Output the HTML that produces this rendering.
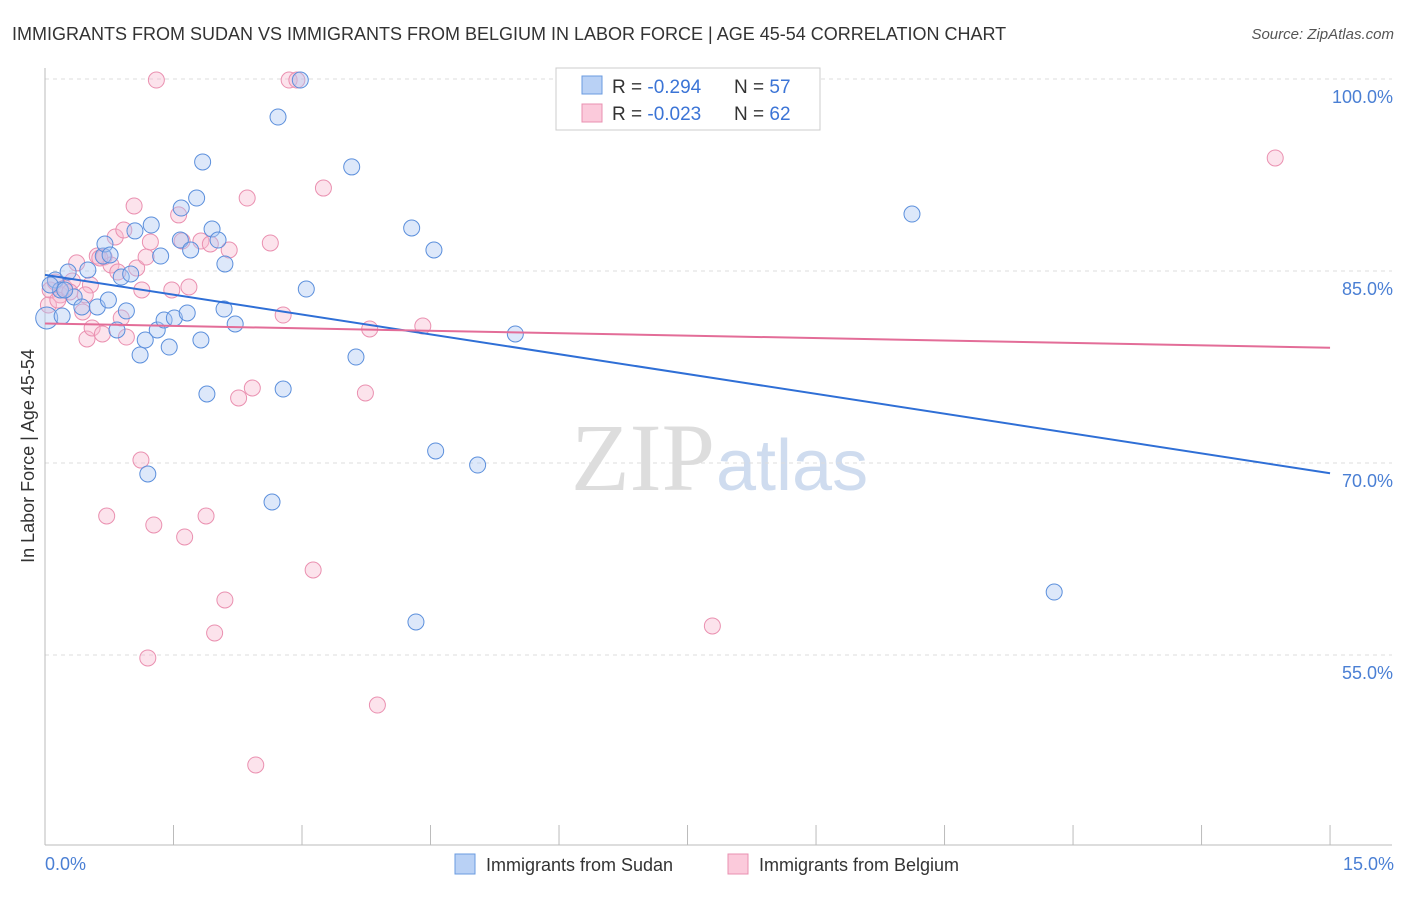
<!DOCTYPE html>
<html><head><meta charset="utf-8"><style>
body{margin:0;background:#fff;font-family:"Liberation Sans",sans-serif}
</style></head><body>
<svg width="1406" height="892" viewBox="0 0 1406 892" xmlns="http://www.w3.org/2000/svg">
<text x="12" y="40" font-size="18" fill="#333">IMMIGRANTS FROM SUDAN VS IMMIGRANTS FROM BELGIUM IN LABOR FORCE | AGE 45-54 CORRELATION CHART</text>
<text x="1394" y="39" font-size="15" fill="#555" text-anchor="end" font-style="italic">Source: ZipAtlas.com</text>
<text x="715" y="490" font-size="96" fill="#ddd" text-anchor="end" font-family="Liberation Serif">ZIP</text>
<text x="716" y="490" font-size="72" fill="#cfdcef">atlas</text>
<g id="grid"></g>
<g id="axes"></g>
<g id="pts"></g>
<g id="trends"></g>
<text x="34" y="456" font-size="18" fill="#333" text-anchor="middle" transform="rotate(-90 34 456)">In Labor Force | Age 45-54</text>
<text x="45" y="870" font-size="18" fill="#4a7fd4">0.0%</text>
<text x="1394" y="870" font-size="18" fill="#4a7fd4" text-anchor="end">15.0%</text>
<g>
<rect x="556" y="68" width="264" height="62" fill="#fff" stroke="#ccc"/>
<rect x="582" y="76" width="20" height="18" fill="#b9d1f5" stroke="#6a9be0"/>
<rect x="582" y="104" width="20" height="18" fill="#fbcadb" stroke="#ea90b0"/>
<text x="612" y="93" font-size="19" fill="#333">R = <tspan fill="#3b74d6">-0.294</tspan></text>
<text x="734" y="93" font-size="19" fill="#333">N = <tspan fill="#3b74d6">57</tspan></text>
<text x="612" y="120" font-size="19" fill="#333">R = <tspan fill="#3b74d6">-0.023</tspan></text>
<text x="734" y="120" font-size="19" fill="#333">N = <tspan fill="#3b74d6">62</tspan></text>
</g>
<g>
<rect x="455" y="854" width="20" height="20" fill="#b9d1f5" stroke="#6a9be0"/>
<text x="486" y="871" font-size="18" fill="#333">Immigrants from Sudan</text>
<rect x="728" y="854" width="20" height="20" fill="#fbcadb" stroke="#ea90b0"/>
<text x="759" y="871" font-size="18" fill="#333">Immigrants from Belgium</text>
</g>
</svg>
<script>
const yTicks=[100,85,70,55];
const xTickVals=[0,1.5,3,4.5,6,7.5,9,10.5,12,13.5,15];
const bluePx=[[47,318],[55,280],[62,316],[68,272],[74,297],[82,307],[88,270],[97,307],[103,256],[105,244],[108,300],[117,330],[121,277],[126,311],[131,274],[135,231],[140,355],[145,340],[148,474],[151,225],[157,330],[161,256],[164,320],[169,347],[174,318],[180,240],[181,208],[187,313],[191,250],[197,198],[201,340],[203,162],[207,394],[212,229],[218,240],[224,309],[225,264],[235,324],[272,502],[278,117],[283,389],[300,80],[306,289],[352,167],[356,357],[412,228],[416,622],[434,250],[436,451],[478,465],[515,334],[912,214],[1054,592],[60,290],[50,285],[65,290],[110,255]];
const pinkPx=[[50,290],[55,282],[60,295],[65,288],[72,281],[77,263],[83,312],[87,339],[90,285],[92,328],[97,256],[102,334],[104,257],[107,516],[111,265],[115,237],[118,272],[121,318],[124,230],[126,337],[134,206],[137,268],[141,460],[146,257],[148,658],[150,242],[154,525],[156,80],[172,290],[179,215],[182,241],[185,537],[189,287],[201,241],[206,516],[210,244],[215,633],[225,600],[229,250],[239,398],[247,198],[252,388],[256,765],[270,243],[283,315],[289,80],[297,80],[313,570],[323,188],[365,393],[370,329],[377,705],[423,326],[565,80],[712,626],[1275,158],[48,305],[58,300],[70,292],[100,258],[142,290],[85,295]];
// data values (x %, y %) derived from the picture
const blueX=bluePx.map(p=>+((p[0]-45)/85.67).toFixed(2)), blueY=bluePx.map(p=>+(100-(p[1]-79)/12.8).toFixed(2));
const pinkX=pinkPx.map(p=>+((p[0]-45)/85.67).toFixed(2)), pinkY=pinkPx.map(p=>+(100-(p[1]-79)/12.8).toFixed(2));
const blueTrend=[84.7,69.2], pinkTrend=[80.9,79.0];
const NS="http://www.w3.org/2000/svg";
const sx=v=>45+v*85.67, sy=v=>79+(100-v)*12.8;
function mk(tag,attrs,parent){const e=document.createElementNS(NS,tag);for(const k in attrs)e.setAttribute(k,attrs[k]);document.getElementById(parent).appendChild(e);return e;}
yTicks.forEach(t=>{
 const l=mk('line',{x1:45,x2:1392,y1:sy(t),y2:sy(t),stroke:'#ddd','stroke-dasharray':'4 4'},'grid');
 
 
 const tx=mk('text',{x:1393,y:sy(t)+24,'font-size':18,fill:'#4a7fd4','text-anchor':'end'},'grid');
 tx.textContent=t.toFixed(1)+'%';
 
 
});
const ax=mk('line',{x1:45,x2:45,y1:68,y2:845,stroke:'#bbb'},'axes');


const bx=mk('line',{x1:45,x2:1392,y1:845,y2:845,stroke:'#bbb'},'axes');


xTickVals.forEach(v=>{const t=mk('line',{x1:sx(v),x2:sx(v),y1:825,y2:845,stroke:'#bbb'},'axes');
 
 });
function pts(X,Y,fill,stroke,name){X.forEach((x,i)=>{const c=mk('circle',{cx:sx(x),cy:sy(Y[i]),r:(i==0&&name=='sudan-point')?11:8,fill:fill,'fill-opacity':0.4,stroke:stroke,'stroke-width':1},'pts');
 
 });}
pts(pinkX,pinkY,'#f8b9cf','#ea90b0','belgium-point');
pts(blueX,blueY,'#a9c6f2','#5b8fdc','sudan-point');
const bl=mk('line',{x1:sx(0),y1:sy(blueTrend[0]),x2:sx(15),y2:sy(blueTrend[1]),stroke:'#2f6fd6','stroke-width':2},'trends');


const pl=mk('line',{x1:sx(0),y1:sy(pinkTrend[0]),x2:sx(15),y2:sy(pinkTrend[1]),stroke:'#e36d98','stroke-width':2},'trends');


</script>
</body></html>
